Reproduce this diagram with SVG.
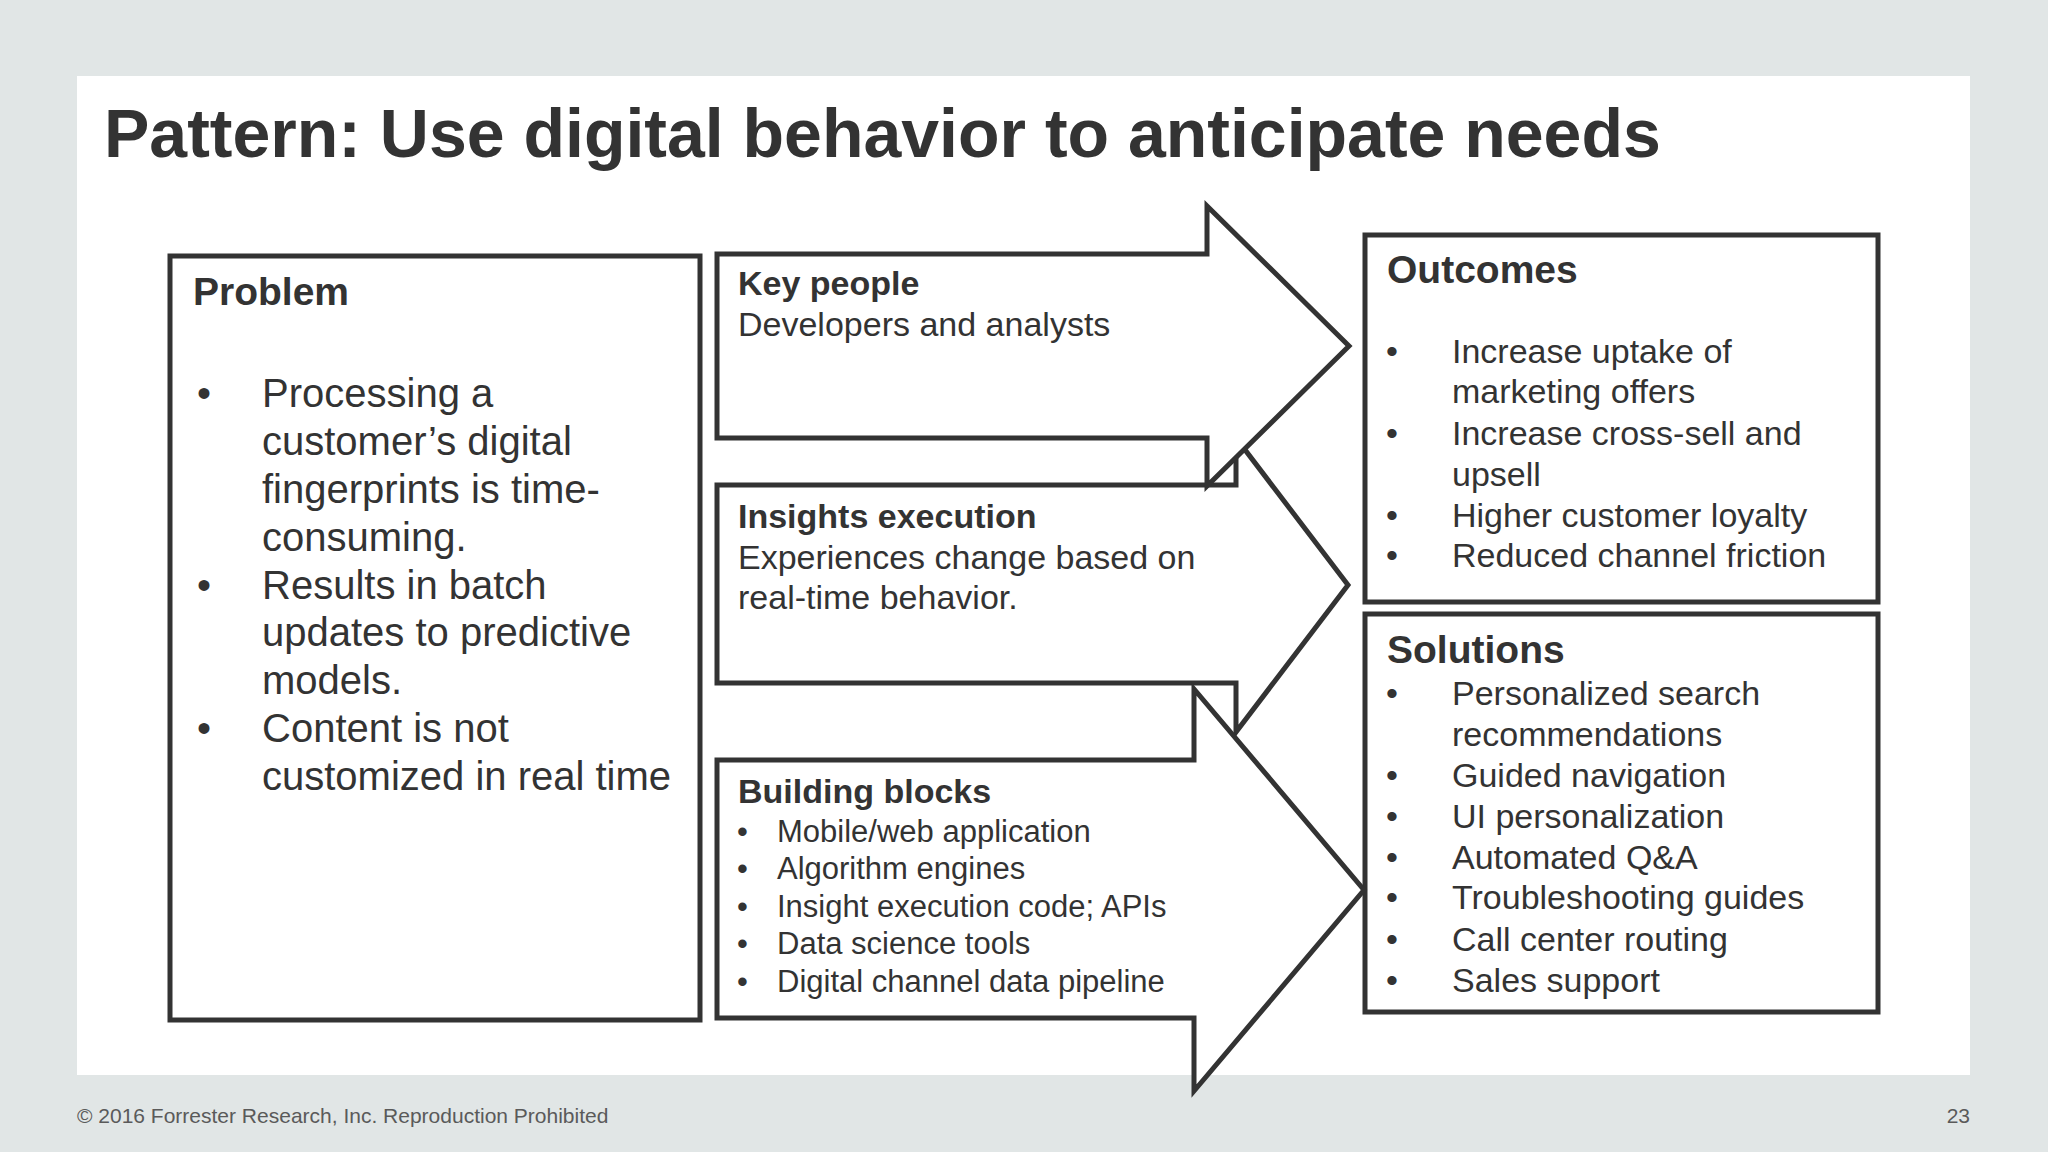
<svg xmlns="http://www.w3.org/2000/svg" width="2048" height="1152" viewBox="0 0 2048 1152">
<style>
  text { font-family: "Liberation Sans", Arial, sans-serif; fill: #333333; }
  .title { font-size: 68px; font-weight: bold; }
  .h39 { font-size: 39px; font-weight: bold; }
  .h34 { font-size: 34px; font-weight: bold; }
  .t40 { font-size: 40px; }
  .t34 { font-size: 34px; }
  .t31 { font-size: 31px; }
  .foot { font-size: 21px; fill: #5a5a5a; }
  .box { fill: #ffffff; stroke: #333333; stroke-width: 5; }
  .arrow { fill: #ffffff; stroke: #333333; stroke-width: 5; stroke-linejoin: miter; stroke-miterlimit: 10; }
</style>
<rect x="0" y="0" width="2048" height="1152" fill="#e1e6e6"/>
<rect x="77" y="76" width="1893" height="999" fill="#ffffff"/>
<text class="title" x="104" y="157">Pattern: Use digital behavior to anticipate needs</text>

<g id="problem">
  <rect class="box" x="170" y="256" width="530" height="764"/>
  <text class="h39" x="193" y="305">Problem</text>
  <text class="t40" x="197" y="407">•</text>
  <text class="t40" x="262" y="407">Processing a</text>
  <text class="t40" x="262" y="455">customer’s digital</text>
  <text class="t40" x="262" y="503">fingerprints is time-</text>
  <text class="t40" x="262" y="551">consuming.</text>
  <text class="t40" x="197" y="599">•</text>
  <text class="t40" x="262" y="599">Results in batch</text>
  <text class="t40" x="262" y="646">updates to predictive</text>
  <text class="t40" x="262" y="694">models.</text>
  <text class="t40" x="197" y="742">•</text>
  <text class="t40" x="262" y="742">Content is not</text>
  <text class="t40" x="262" y="790">customized in real time</text>
</g>

<g id="outcomes">
  <rect class="box" x="1365" y="235" width="513" height="367"/>
  <text class="h39" x="1387" y="283">Outcomes</text>
  <text class="t34" x="1386" y="363">•</text>
  <text class="t34" x="1452" y="363">Increase uptake of</text>
  <text class="t34" x="1452" y="403">marketing offers</text>
  <text class="t34" x="1386" y="445">•</text>
  <text class="t34" x="1452" y="445">Increase cross-sell and</text>
  <text class="t34" x="1452" y="486">upsell</text>
  <text class="t34" x="1386" y="527">•</text>
  <text class="t34" x="1452" y="527">Higher customer loyalty</text>
  <text class="t34" x="1386" y="567">•</text>
  <text class="t34" x="1452" y="567">Reduced channel friction</text>
</g>

<g id="solutions">
  <rect class="box" x="1365" y="614" width="513" height="398"/>
  <text class="h39" x="1387" y="663">Solutions</text>
  <text class="t34" x="1386" y="705">•</text>
  <text class="t34" x="1452" y="705">Personalized search</text>
  <text class="t34" x="1452" y="746">recommendations</text>
  <text class="t34" x="1386" y="787">•</text>
  <text class="t34" x="1452" y="787">Guided navigation</text>
  <text class="t34" x="1386" y="828">•</text>
  <text class="t34" x="1452" y="828">UI personalization</text>
  <text class="t34" x="1386" y="869">•</text>
  <text class="t34" x="1452" y="869">Automated Q&amp;A</text>
  <text class="t34" x="1386" y="909">•</text>
  <text class="t34" x="1452" y="909">Troubleshooting guides</text>
  <text class="t34" x="1386" y="951">•</text>
  <text class="t34" x="1452" y="951">Call center routing</text>
  <text class="t34" x="1386" y="992">•</text>
  <text class="t34" x="1452" y="992">Sales support</text>
</g>

<g id="insights-execution">
  <path class="arrow" d="M717,485 H1236 V438 L1348,585 L1236,732 V683 H717 Z"/>
  <text class="h34" x="738" y="528">Insights execution</text>
  <text class="t34" x="738" y="569">Experiences change based on</text>
  <text class="t34" x="738" y="609">real-time behavior.</text>
</g>

<g id="key-people">
  <path class="arrow" d="M717,254 H1207 V206 L1349,346 L1207,486 V438 H717 Z"/>
  <text class="h34" x="738" y="295">Key people</text>
  <text class="t34" x="738" y="336">Developers and analysts</text>
</g>

<g id="building-blocks">
  <path class="arrow" d="M717,760 H1194 V689 L1364,890 L1194,1091 V1018 H717 Z"/>
  <text class="h34" x="738" y="803">Building blocks</text>
  <text class="t31" x="737" y="842">•</text>
  <text class="t31" x="777" y="842">Mobile/web application</text>
  <text class="t31" x="737" y="879">•</text>
  <text class="t31" x="777" y="879">Algorithm engines</text>
  <text class="t31" x="737" y="917">•</text>
  <text class="t31" x="777" y="917">Insight execution code; APIs</text>
  <text class="t31" x="737" y="954">•</text>
  <text class="t31" x="777" y="954">Data science tools</text>
  <text class="t31" x="737" y="992">•</text>
  <text class="t31" x="777" y="992">Digital channel data pipeline</text>
</g>

<g id="connectors"></g>

<text class="foot" x="77" y="1123">© 2016 Forrester Research, Inc. Reproduction Prohibited</text>
<text class="foot" x="1970" y="1123" text-anchor="end">23</text>
</svg>
